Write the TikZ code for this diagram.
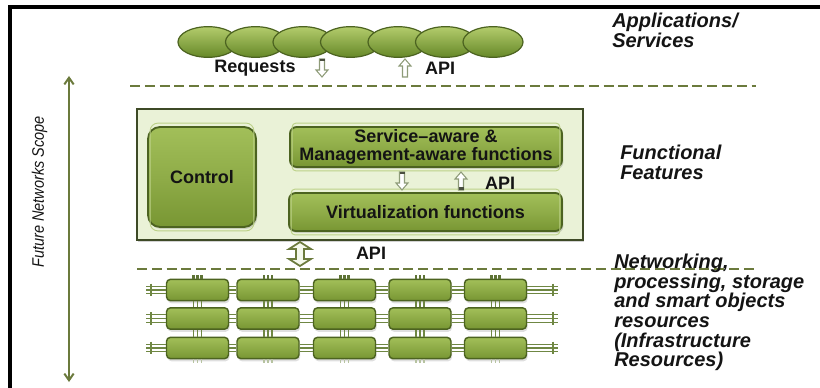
\documentclass[tikz,border=0pt]{standalone}
\usepackage{fontspec}
\setmainfont{Liberation Sans}
\usetikzlibrary{shapes.geometric,shadows,arrows.meta}

\definecolor{rulecol}{HTML}{6B7A3C}
\definecolor{leafdark}{HTML}{4C6320}
\definecolor{leaftop}{HTML}{A2BF59}
\definecolor{leafmidc}{HTML}{8FAC48}
\definecolor{leafbot}{HTML}{789633}
\definecolor{leafrim}{HTML}{BCD188}
\definecolor{ovaltop}{HTML}{B3CC6C}
\definecolor{ovalbot}{HTML}{668828}
\definecolor{panelfill}{HTML}{EAF2D7}
\definecolor{panelrim}{HTML}{3E4A26}
\definecolor{wirecol}{HTML}{6F8743}
\definecolor{hollowrim}{HTML}{8E9B78}
\definecolor{capcol}{HTML}{4A4F40}
\definecolor{inkcol}{HTML}{141414}

\newcommand\lblfont{\bfseries\fontsize{13.5}{15}\selectfont}
\newcommand\tagfont{\bfseries\itshape\fontsize{15}{14.7}\selectfont}

\tikzset{
  frameline/.style={draw=black, line width=2.4pt},
  layerline/.style={draw=rulecol, line width=2.2pt, dash pattern=on 7.5pt off 3.6pt},
  oval/.style={ellipse, draw=leafdark, line width=0.9pt, inner sep=0pt,
    minimum width=45pt, minimum height=23pt,
    top color=ovaltop, bottom color=ovalbot},
  panelbox/.style={draw=panelrim, line width=2.2pt, fill=panelfill, inner sep=0pt,
    drop shadow={shadow xshift=1pt, shadow yshift=-1.5pt, opacity=0.35}},
  funcbox/.style={draw=leafdark, line width=1.4pt, inner sep=0pt, align=center,
    top color=leaftop, bottom color=leafbot, middle color=leafmidc,
    font=\lblfont, text=inkcol,
    drop shadow={shadow xshift=1pt, shadow yshift=-1.5pt, opacity=0.3}},
  rimline/.style={draw=leafrim, line width=0.7pt},
  srvbox/.style={draw=leafdark, line width=1.1pt, rounded corners=3pt, inner sep=0pt,
    minimum width=46.5pt, minimum height=16pt,
    top color=leaftop, bottom color=leafbot,
    drop shadow={shadow xshift=0.8pt, shadow yshift=-2pt, opacity=0.25}},
  wire/.style={draw=wirecol, line width=0.8pt},
  wirebar/.style={draw=wirecol, line width=1.4pt},
  stub/.style={draw=leafdark!90, line width=1.6pt},
  faintstub/.style={draw=wirecol!50, line width=1.2pt},
  hollow/.style={draw=hollowrim, fill=white, line width=0.8pt, line join=miter},
  bighollow/.style={draw=rulecol, fill=panelfill!50, line width=1.3pt, line join=miter},
  lbl/.style={font=\lblfont, text=inkcol, inner sep=0pt},
  tag/.style={font=\tagfont, text=inkcol, align=left, inner sep=0pt, anchor=north west},
  scopearrow/.style={draw=rulecol, line width=1.5pt,
    {Straight Barb[length=5pt,width=7pt]}-{Straight Barb[length=5pt,width=7pt]}},
  pics/downarrow/.style={code={
    \path[hollow] (-2.5,0) -- (2.5,0) -- (2.5,11) -- (6,11) -- (0,18) -- (-6,11) -- (-2.5,11) -- cycle;
    \fill[capcol] (-2.5,0) rectangle (2.5,2.5);}},
  pics/uparrow/.style={code={
    \path[hollow] (0,0) -- (6,7) -- (2.5,7) -- (2.5,18) -- (-2.5,18) -- (-2.5,7) -- (-6,7) -- cycle;}},
  pics/uparrowcap/.style={code={
    \path[hollow] (0,0) -- (6,7) -- (2.5,7) -- (2.5,18) -- (-2.5,18) -- (-2.5,7) -- (-6,7) -- cycle;
    \fill[capcol] (-2.5,15.5) rectangle (2.5,18);}},
  pics/bothways/.style={code={
    \path[bighollow] (0,0) -- (11,7) -- (4,7) -- (4,17) -- (11,17) -- (0,24)
      -- (-11,17) -- (-4,17) -- (-4,7) -- (-11,7) -- cycle;}}
}

\begin{document}
\begin{tikzpicture}[x=0.75pt,y=-0.75pt]
\useasboundingbox (0,0) rectangle (820,388);

% frame along the top and left edges
\coordinate (frametl) at (10,7);
\coordinate (frametr) at (820,7);
\coordinate (framebl) at (10,388);
\draw[frameline] (framebl) -- (frametl) -- (frametr);

% applications / services layer
\foreach \i in {0,...,6}
  \node[oval] (app\i) at ({208+47.5*\i},42) {};
\node[lbl] (reqlbl) at (255,68) {Requests};
\pic at (322,59) {downarrow};
\pic at (405,59) {uparrow};
\node[lbl] (apitop) at (440,68) {API};
\node[tag] (apptag) at (612,13) {Applications/\\Services};

% layer separators
\coordinate (sepAl) at (130,86);
\coordinate (sepAr) at (756,86);
\coordinate (sepBl) at (137,269);
\coordinate (sepBr) at (758,269);
\draw[layerline] (sepAl) -- (sepAr);
\draw[layerline] (sepBl) -- (sepBr);

% scope of future networks
\coordinate (scopetop) at (69,76);
\coordinate (scopebot) at (69,382);
\draw[scopearrow] (scopetop) -- (scopebot);
\node[rotate=90, font=\itshape\fontsize{12.5}{14}\selectfont, text=inkcol, inner sep=0pt]
  (scopelbl) at (39.5,192) {\scalebox{0.87}[1]{Future Networks Scope}};

% functional features panel
\node[panelbox, minimum width=334.5pt, minimum height=98.25pt] (panel) at (360,174.5) {};
\node[funcbox, rounded corners=9pt, minimum width=81pt, minimum height=75pt] (control) at (202,177) {Control};
\node[funcbox, rounded corners=5pt, minimum width=204pt, minimum height=30pt] (service) at (426,147)
  {Service–aware \&\\[-1.5pt]Management-aware functions};
\node[funcbox, rounded corners=5pt, minimum width=204.75pt, minimum height=28.5pt] (virt) at (425.5,212)
  {Virtualization functions};
\draw[rimline, rounded corners=6pt] ([shift={(3,-3)}]control.north west) rectangle ([shift={(-3,3)}]control.south east);
\draw[rimline, rounded corners=3pt] ([shift={(3,-3)}]service.north west) rectangle ([shift={(-3,3)}]service.south east);
\draw[rimline, rounded corners=3pt] ([shift={(3,-3)}]virt.north west) rectangle ([shift={(-3,3)}]virt.south east);
\pic at (402,172) {downarrow};
\pic at (461,172) {uparrowcap};
\node[lbl] (apimid) at (500,183) {API};
\node[tag] (functag) at (620,145) {Functional\\Features};

% link between panel and infrastructure
\pic at (300,242) {bothways};
\node[lbl] (apibot) at (371,253) {API};

% infrastructure resources grid
\foreach \r/\y in {1/290,2/318.5,3/348}
  \foreach \c/\x in {1/197.5,2/268,3/344.5,4/420,5/495.5}
    \node[srvbox] (s\r\c) at (\x,\y) {};

\foreach \r/\y in {1/290,2/318.5,3/348} {
  \coordinate (lend\r) at (146,\y);
  \coordinate (lbar\r) at (151,\y);
  \coordinate (rend\r) at (558,\y);
  \coordinate (rbar\r) at (553,\y);
}

\foreach \r in {1,2,3} {
  \foreach \c/\n in {1/2,2/3,3/4,4/5}
    \foreach \o in {-2.7,0,2.7}
      \draw[wire] ([yshift=\o pt]s\r\c.east) -- ([yshift=\o pt]s\r\n.west);
  \foreach \o in {-2.7,0,2.7} {
    \draw[wire] ([yshift=\o pt]s\r1.west) -- ([yshift=\o pt]lend\r);
    \draw[wire] ([yshift=\o pt]s\r5.east) -- ([yshift=\o pt]rend\r);
  }
  \draw[wirebar] ([yshift=4.8pt]lbar\r) -- ([yshift=-4.8pt]lbar\r);
  \draw[wirebar] ([yshift=4.8pt]rbar\r) -- ([yshift=-4.8pt]rbar\r);
}

\foreach \c in {1,...,5} {
  \foreach \o in {-3,0,3} {
    \draw[wire] ([xshift=\o pt]s1\c.south) -- ([xshift=\o pt]s2\c.north);
    \draw[wire] ([xshift=\o pt]s2\c.south) -- ([xshift=\o pt]s3\c.north);
    \draw[stub] ([xshift=\o pt]s1\c.north) -- ([xshift=\o pt, yshift=3pt]s1\c.north);
    \draw[faintstub] ([xshift=\o pt]s3\c.south) -- ([xshift=\o pt, yshift=-3pt]s3\c.south);
  }
}

\node[tag] (infratag) at (614,254)
  {Networking,\\processing, storage\\and smart objects\\resources\\(Infrastructure\\Resources)};
\end{tikzpicture}
\end{document}
